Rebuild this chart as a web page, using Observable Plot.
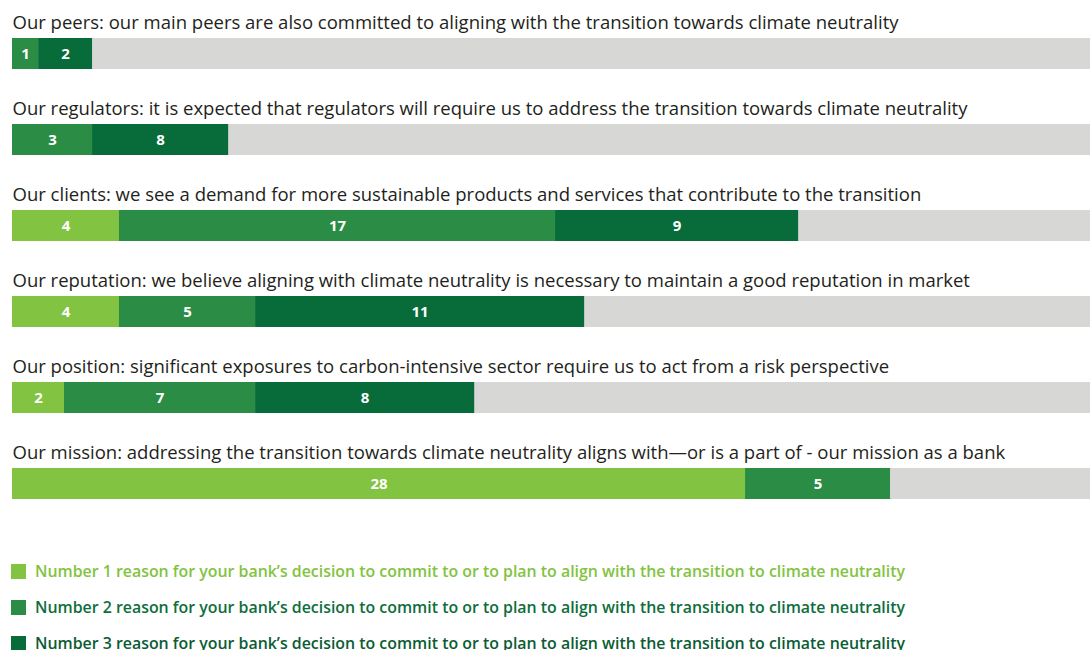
<!DOCTYPE html>
<html>
<head>
<meta charset="utf-8">
<script src="https://cdn.jsdelivr.net/npm/d3@7"></script>
<script src="https://cdn.jsdelivr.net/npm/@observablehq/plot@0.6"></script>
<style>
  html, body { margin: 0; padding: 0; background: #fff; }
  #chart svg { display: block; }
  .legend { margin-top: 42px; font-family: "Open Sans", sans-serif; font-size: 15.9px; font-weight: 600; }
  .legend .item { display: flex; align-items: center; height: 36px; }
  .legend .sw { width: 15px; height: 15px; margin-left: 11px; margin-right: 9px; flex: none; }
</style>
</head>
<body>
<div id="chart"></div>
<div class="legend" id="legend"></div>
<script>
// Row titles (categories)
const categories = [
  "Our peers: our main peers are also committed to aligning with the transition towards climate neutrality",
  "Our regulators: it is expected that regulators will require us to address the transition towards climate neutrality",
  "Our clients: we see a demand for more sustainable products and services that contribute to the transition",
  "Our reputation: we believe aligning with climate neutrality is necessary to maintain a good reputation in market",
  "Our position: significant exposures to carbon-intensive sector require us to act from a risk perspective",
  "Our mission: addressing the transition towards climate neutrality aligns with\u2014or is a part of - our mission as a bank"
];
// Series names
const series = [
  "Number 1 reason for your bank\u2019s decision to commit to or to plan to align with the transition to climate neutrality",
  "Number 2 reason for your bank\u2019s decision to commit to or to plan to align with the transition to climate neutrality",
  "Number 3 reason for your bank\u2019s decision to commit to or to plan to align with the transition to climate neutrality"
];
const colors = ["#82c341", "#2b8c45", "#076b3a"];
const legendTextColors = ["#82c341", "#0e6e3c", "#0b5c34"];
// Printed labels per series
const reason1Labels = [null, null, 4, 4, 2, 28];
const reason2Labels = [1, 3, 17, 5, 7, 5];
const reason3Labels = [2, 8, 9, 11, 8, null];
// Bar lengths as drawn in the picture (units on a 0-40 axis)
const reason1Lengths = [0, 0, 3.97, 3.97, 1.93, 27.2];
const reason2Lengths = [0.97, 2.97, 16.18, 5.05, 7.09, 5.38];
const reason3Lengths = [2.0, 5.05, 9.02, 12.21, 8.13, 0];
const xMax = 40;

const lengths = [reason1Lengths, reason2Lengths, reason3Lengths];
const labels = [reason1Labels, reason2Labels, reason3Labels];
const rows = [];
categories.forEach((c, i) => {
  series.forEach((s, k) => {
    if (lengths[k][i] > 0) rows.push({cat: c, series: s, length: lengths[k][i], label: labels[k][i]});
  });
});

const chart = Plot.plot({
  width: 1090,
  height: 511,
  marginTop: 38,
  marginBottom: 10,
  marginLeft: 12,
  marginRight: 0,
  style: {fontFamily: "'Open Sans', sans-serif", background: "#fff"},
  x: {domain: [0, xMax], axis: null},
  y: {domain: categories, axis: null, paddingInner: 1 - 31 / 86.4, paddingOuter: 0, align: 0},
  color: {domain: series, range: colors},
  marks: [
    Plot.barX(categories, {x1: 0, x2: xMax, y: d => d, fill: "#d7d7d6"}),
    Plot.barX(rows, Plot.stackX({x: "length", y: "cat", fill: "series", order: null})),
    Plot.text(rows, Plot.stackX({x: "length", y: "cat", text: "label", order: null, fill: "white", fontSize: 15, fontWeight: 700})),
    Plot.text(categories, {x: 0, y: d => d, text: d => d, textAnchor: "start", dy: -31, fontSize: 18.5, fill: "#231f20"})
  ]
});
document.getElementById("chart").appendChild(chart);

const legend = document.getElementById("legend");
series.forEach((s, k) => {
  const item = document.createElement("div");
  item.className = "item";
  const sw = document.createElement("span");
  sw.className = "sw";
  sw.style.background = colors[k];
  const tx = document.createElement("span");
  tx.textContent = s;
  tx.style.color = legendTextColors[k];
  item.appendChild(sw);
  item.appendChild(tx);
  legend.appendChild(item);
});
</script>
</body>
</html>
